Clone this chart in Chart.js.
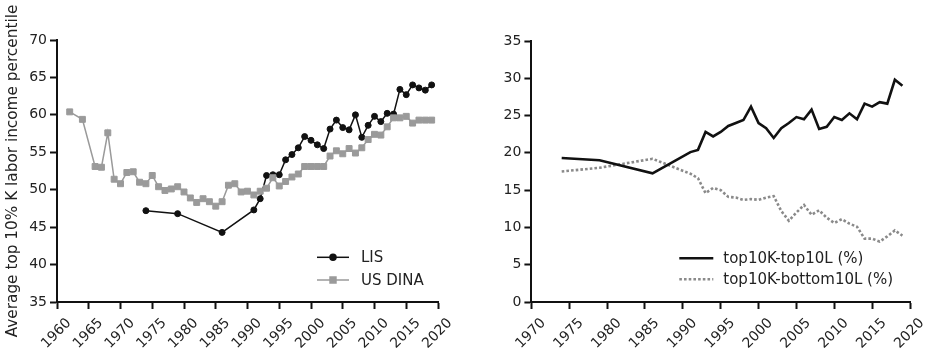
<!DOCTYPE html>
<html>
<head>
<meta charset="utf-8">
<script src="https://cdn.jsdelivr.net/npm/chart.js@4.4.1/dist/chart.umd.min.js"></script>
<style>
html, body { margin: 0; padding: 0; background: #fff; }
#wrap { position: relative; width: 929px; height: 350px; }
#left { position: absolute; left: 0; top: 0; }
#right { position: absolute; left: 465px; top: 0; }
</style>
</head>
<body>
<div id="wrap">
  <canvas id="left" width="465" height="350"></canvas>
  <canvas id="right" width="464" height="350"></canvas>
</div>
<script>
// left panel: average percentile of top 10% K holders
var lisYears = [1974, 1979, 1986, 1991, 1992, 1993, 1994, 1995, 1996, 1997, 1998, 1999, 2000, 2001, 2002,
                2003, 2004, 2005, 2006, 2007, 2008, 2009, 2010, 2011, 2012, 2013, 2014, 2015, 2016, 2017, 2018, 2019];
var lisValues = [47.2, 46.8, 44.3, 47.3, 48.8, 51.9, 52.0, 52.0, 54.0, 54.7, 55.6, 57.1, 56.6, 56.0, 55.5,
                 58.1, 59.3, 58.3, 58.0, 60.0, 57.0, 58.6, 59.8, 59.1, 60.2, 60.1, 63.4, 62.7, 64.0, 63.6, 63.3, 64.0];

var dinaYears = [1962, 1964, 1966, 1967, 1968, 1969, 1970, 1971, 1972, 1973, 1974, 1975, 1976, 1977, 1978, 1979,
                 1980, 1981, 1982, 1983, 1984, 1985, 1986, 1987, 1988, 1989, 1990, 1991, 1992, 1993, 1994, 1995,
                 1996, 1997, 1998, 1999, 2000, 2001, 2002, 2003, 2004, 2005, 2006, 2007, 2008, 2009, 2010, 2011,
                 2012, 2013, 2014, 2015, 2016, 2017, 2018, 2019];
var dinaValues = [60.4, 59.4, 53.1, 53.0, 57.6, 51.4, 50.8, 52.3, 52.4, 51.0, 50.8, 51.9, 50.4, 49.9, 50.1, 50.4,
                  49.7, 48.9, 48.3, 48.8, 48.4, 47.8, 48.4, 50.6, 50.8, 49.7, 49.8, 49.3, 49.8, 50.2, 51.6, 50.5,
                  51.1, 51.7, 52.1, 53.1, 53.1, 53.1, 53.1, 54.5, 55.2, 54.8, 55.5, 54.9, 55.6, 56.7, 57.4, 57.3,
                  58.4, 59.6, 59.6, 59.8, 58.9, 59.3, 59.3, 59.3];

// right panel: gaps in %
var gapYears = lisYears;
var topTopGap = [19.3, 19.0, 17.25, 20.1, 20.4, 22.8, 22.2, 22.8, 23.6, 24.0, 24.4, 26.2, 24.0, 23.3, 22.0,
                 23.3, 24.0, 24.8, 24.5, 25.8, 23.2, 23.5, 24.8, 24.4, 25.3, 24.5, 26.6, 26.2, 26.8, 26.6, 29.8, 29.0];
var topBottomGap = [17.5, 18.0, 19.2, 17.2, 16.6, 14.6, 15.3, 15.0, 14.1, 14.0, 13.7, 13.8, 13.7, 14.0, 14.2,
                    12.2, 10.9, 12.0, 13.0, 11.7, 12.3, 11.3, 10.6, 11.1, 10.5, 10.1, 8.5, 8.5, 8.1, 8.8, 9.6, 8.9];

var leftTicks = [35, 70];
var rightTicks = [0, 35];

function toPoints(xs, ys) {
    return xs.map(function(x, i) { return {x: x, y: ys[i]}; });
}

var FONT = 'DejaVu Sans';
var INK = '#222';

// legend drawn inside the plot, bottom right
var insideLegend = {
    id: 'insideLegend',
    afterDatasetsDraw: function(chart, args, opts) {
        var ctx = chart.ctx;
        var area = chart.chartArea;
        ctx.save();
        chart.data.datasets.forEach(function(ds, i) {
            var y = area.bottom - opts.rows[i];
            var x0 = area.right - opts.right;
            var x1 = x0 + opts.lineLength;
            ctx.strokeStyle = ds.borderColor;
            ctx.lineWidth = ds.borderWidth;
            ctx.setLineDash(ds.borderDash || []);
            ctx.beginPath();
            ctx.moveTo(x0, y);
            ctx.lineTo(x1, y);
            ctx.stroke();
            ctx.setLineDash([]);
            if (ds.pointRadius) {
                ctx.fillStyle = ds.backgroundColor;
                ctx.strokeStyle = ds.borderColor;
                Chart.helpers.drawPoint(ctx, {
                    pointStyle: ds.pointStyle, rotation: 0,
                    radius: ds.pointRadius, borderWidth: ds.pointBorderWidth
                }, (x0 + x1) / 2, y);
            }
            ctx.fillStyle = INK;
            ctx.font = '15px "' + FONT + '"';
            ctx.textBaseline = 'middle';
            ctx.textAlign = 'left';
            ctx.fillText(ds.label, x1 + opts.gap, y + 1);
        });
        ctx.restore();
    }
};

function axisX(min, max) {
    return {
        type: 'linear', min: min, max: max,
        ticks: {
            stepSize: 5, maxRotation: 45, minRotation: 45, autoSkip: false,
            color: INK, font: {family: FONT, size: 14}, padding: 6, labelOffset: 12,
            callback: function(v) { return String(v); }
        },
        grid: {drawOnChartArea: false, drawTicks: true, tickLength: 7, tickWidth: 2, tickColor: '#111'},
        border: {display: true, color: '#111', width: 2},
        afterFit: function(scale) { scale.height = 48; }
    };
}

function axisY(range, width, title) {
    var ax = {
        min: range[0], max: range[1],
        ticks: {stepSize: 5, color: INK, font: {family: FONT, size: 14}, padding: 3},
        grid: {drawOnChartArea: false, drawTicks: true, tickLength: 7, tickWidth: 2, tickColor: '#111'},
        border: {display: true, color: '#111', width: 2},
        afterFit: function(scale) { scale.width = width; }
    };
    if (title) {
        ax.title = {display: true, text: title, color: INK, font: {family: FONT, size: 15.3}, padding: {top: 4, bottom: 4}};
    }
    return ax;
}

var leftConfig = {
    type: 'line',
    data: {
        datasets: [{
            label: 'LIS',
            data: toPoints(lisYears, lisValues),
            borderColor: '#111', backgroundColor: '#111', borderWidth: 1.5,
            pointStyle: 'circle', pointRadius: 3, pointBorderWidth: 1,
            order: 1
        }, {
            label: 'US DINA',
            data: toPoints(dinaYears, dinaValues),
            borderColor: '#9a9a9a', backgroundColor: '#9a9a9a', borderWidth: 1.5,
            pointStyle: 'rect', pointRadius: 4.2, pointBorderWidth: 1,
            order: 0
        }]
    },
    options: {
        responsive: false, animation: false,
        layout: {padding: {top: 40, right: 27, left: 0, bottom: 0}},
        plugins: {
            legend: {display: false}, tooltip: {enabled: false},
            insideLegend: {right: 121, lineLength: 32, gap: 12, rows: [44.7, 22]}
        },
        scales: {
            x: axisX(1960, 2020),
            y: axisY(leftTicks, 57, 'Average top 10% K labor income percentile')
        }
    },
    plugins: [insideLegend]
};

var rightConfig = {
    type: 'line',
    data: {
        datasets: [{
            label: 'top10K-top10L (%)',
            data: toPoints(gapYears, topTopGap),
            borderColor: '#111', borderWidth: 2.6, pointRadius: 0
        }, {
            label: 'top10K-bottom10L (%)',
            data: toPoints(gapYears, topBottomGap),
            borderColor: '#8a8a8a', borderWidth: 2.6, borderDash: [2.6, 2.1], pointRadius: 0
        }]
    },
    options: {
        responsive: false, animation: false,
        layout: {padding: {top: 41, right: 19, left: 0, bottom: 0}},
        plugins: {
            legend: {display: false}, tooltip: {enabled: false},
            insideLegend: {right: 230.7, lineLength: 34, gap: 10, rows: [43.7, 22.7]}
        },
        scales: {
            x: axisX(1970, 2020),
            y: axisY(rightTicks, 66.4)
        }
    },
    plugins: [insideLegend]
};

new Chart(document.getElementById('left'), leftConfig);
new Chart(document.getElementById('right'), rightConfig);
</script>
</body>
</html>
